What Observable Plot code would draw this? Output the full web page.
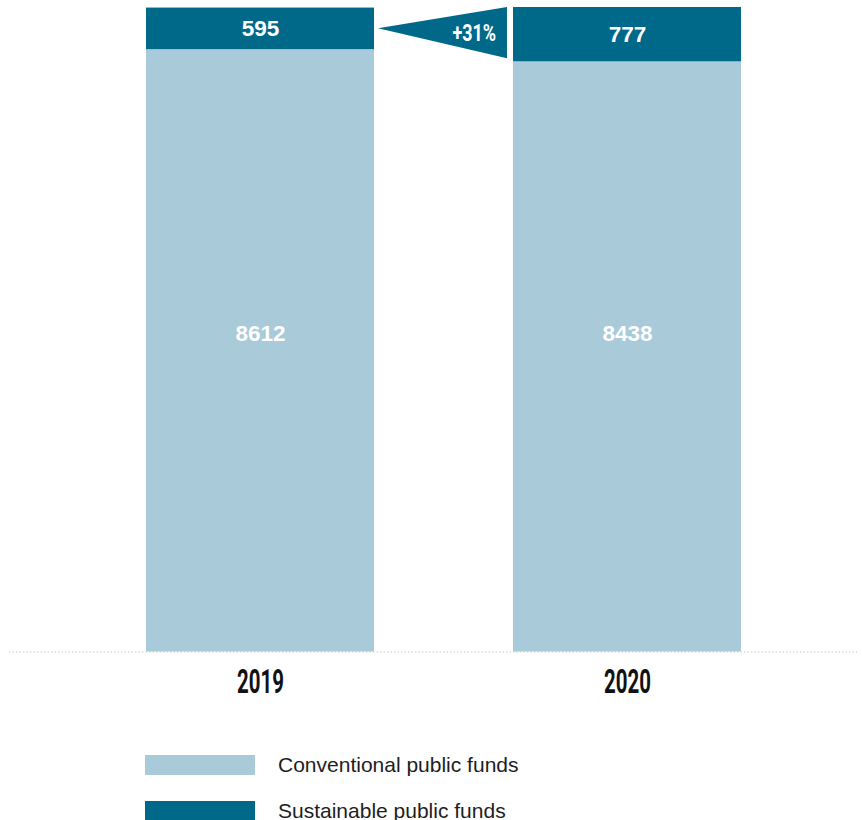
<!DOCTYPE html>
<html><head><meta charset="utf-8">
<script src="https://cdn.jsdelivr.net/npm/d3@7"></script>
<script src="https://cdn.jsdelivr.net/npm/@observablehq/plot@0.6"></script>
<style>
body{margin:0;background:#fff;}
#chart svg{display:block;}
.legend{margin-left:145px;margin-top:25px;font-family:"Liberation Sans",Arial,sans-serif;font-size:21px;color:#1e1e1e;}
.item{display:flex;align-items:center;height:20px;margin-bottom:26px;white-space:nowrap;}
.sw{width:110px;height:20px;margin-right:23px;flex:none;}
</style></head><body>
<div id="chart"></div>
<div class="legend" id="legend"></div>
<script>
const years = ["2019", "2020"];
const conventional = [8612, 8438];
const sustainable = [595, 777];
const seriesNames = ["Conventional public funds", "Sustainable public funds"];
const seriesColors = ["#a8cad9", "#00698a"];

const totals = years.map((_, i) => conventional[i] + sustainable[i]);
const totalMax = d3.max(totals);
const pctChange = Math.round((sustainable[1] - sustainable[0]) / sustainable[0] * 100);

const rows = years.flatMap((yr, i) => [
  {year: yr, series: seriesNames[0], y1: 0, y2: conventional[i], label: String(conventional[i]), labelY: totalMax / 2},
  {year: yr, series: seriesNames[1], y1: conventional[i], y2: totals[i], label: String(sustainable[i]), labelY: conventional[i] + sustainable[i] / 2}
]);

const condensed = "Roboto, 'DejaVu Sans', sans-serif";
const labelFont = "'Liberation Sans', Arial, sans-serif";

function arrowMark(index, scales) {
  const x = scales.x, y = scales.y;
  const bw = x.bandwidth ? x.bandwidth() : 0;
  const xa = x(years[0]) + bw + 4;
  const xb = x(years[1]) - 6;
  const yPoint = y(conventional[0] + sustainable[0] / 2);
  const yTop = y(totals[1]);
  const yBot = y(conventional[1]) - 3;
  const g = d3.create("svg:g");
  g.append("path")
    .attr("d", `M${xa},${yPoint}L${xb},${yTop}L${xb},${yBot}Z`)
    .attr("fill", seriesColors[1]);
  const tx = xb - 11, ty = (yTop + yBot) / 2 + 8.3;
  g.append("text")
    .attr("transform", `translate(${tx},${ty}) scale(0.78,1)`)
    .attr("text-anchor", "end")
    .attr("fill", "white")
    .attr("font-family", condensed)
    .attr("font-weight", "bold")
    .attr("font-size", 23)
    .text(`+${pctChange}%`);
  return g.node();
}

const chart = Plot.plot({
  width: 862,
  height: 730,
  marginLeft: 9,
  marginRight: 5,
  marginTop: 7,
  marginBottom: 78.5,
  x: {domain: years, range: [145, 741], paddingInner: 0.38, paddingOuter: 0, axis: null},
  y: {domain: [0, totalMax], range: [651.5, 7], axis: null},
  color: {domain: seriesNames, range: seriesColors},
  marks: [
    Plot.ruleY([0], {stroke: "#c8c8c8", strokeDasharray: "1.5,2", strokeWidth: 1}),
    Plot.barY(rows, {x: "year", y1: "y1", y2: "y2", fill: "series"}),
    Plot.text(rows.filter(d => d.series === seriesNames[0]), {
      x: "year", y: "labelY", text: "label", fill: "white",
      fontSize: 22.5, fontWeight: "bold", fontFamily: labelFont, dy: 4
    }),
    Plot.text(rows.filter(d => d.series === seriesNames[1]), {
      x: "year", y: "labelY", text: "label", fill: "white",
      fontSize: 22.5, fontWeight: "bold", fontFamily: labelFont, dy: 0
    }),
    Plot.text(years, {
      x: d => d, y: years.map(() => 0), text: d => d,
      fill: "#111", fontSize: 33, fontWeight: "bold", fontFamily: condensed,
      dy: 30
    }),
    arrowMark
  ]
});

chart.querySelectorAll("text").forEach(t => {
  if (!years.includes(t.textContent.trim())) return;
  const tr = t.getAttribute("transform");
  if (tr) t.setAttribute("transform", tr + " scale(0.62,1)");
  else {
    const x = +t.getAttribute("x") || 0;
    t.setAttribute("transform", `translate(${x},0) scale(0.62,1) translate(${-x},0)`);
  }
});

document.getElementById("chart").appendChild(chart);

const legend = document.getElementById("legend");
seriesNames.forEach((name, i) => {
  const item = document.createElement("div");
  item.className = "item";
  const sw = document.createElement("div");
  sw.className = "sw";
  sw.style.background = seriesColors[i];
  const label = document.createElement("span");
  label.textContent = name;
  item.appendChild(sw);
  item.appendChild(label);
  legend.appendChild(item);
});
</script>
</body></html>
